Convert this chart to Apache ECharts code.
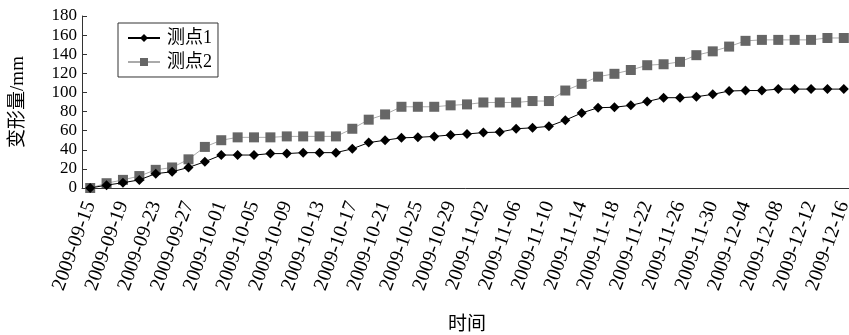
<!DOCTYPE html>
<html>
<head>
<meta charset="utf-8">
<script src="https://cdn.jsdelivr.net/npm/echarts@6/dist/echarts.min.js"></script>
<style>
  html, body { margin: 0; padding: 0; background: #fff; }
  #chart { width: 849px; height: 335px; }
</style>
</head>
<body>
<div id="chart"></div>
<script>
// Survey dates (every two days)
const dates = [
  '2009-09-15','2009-09-17','2009-09-19','2009-09-21','2009-09-23','2009-09-25','2009-09-27','2009-09-29',
  '2009-10-01','2009-10-03','2009-10-05','2009-10-07','2009-10-09','2009-10-11','2009-10-13','2009-10-15',
  '2009-10-17','2009-10-19','2009-10-21','2009-10-23','2009-10-25','2009-10-27','2009-10-29','2009-10-31',
  '2009-11-02','2009-11-04','2009-11-06','2009-11-08','2009-11-10','2009-11-12','2009-11-14','2009-11-16',
  '2009-11-18','2009-11-20','2009-11-22','2009-11-24','2009-11-26','2009-11-28','2009-11-30',
  '2009-12-02','2009-12-04','2009-12-06','2009-12-08','2009-12-10','2009-12-12','2009-12-14','2009-12-16'
];

// Cumulative deformation (mm) at monitoring point 1
const point1 = [
  0, 3, 5.5, 8.5, 15, 17, 21.5, 27.5,
  34.5, 34.5, 34.5, 36, 36, 37, 37, 37,
  41, 47.5, 50, 52.5, 53, 54, 55.5, 56.5,
  58, 58.5, 62, 63, 64.5, 71, 78.5, 84,
  84.5, 86.5, 90.5, 94.5, 94.5, 95.5, 98,
  101.5, 102, 102, 103.5, 103.5, 103.5, 103.5, 103.5
];

// Cumulative deformation (mm) at monitoring point 2
const point2 = [
  0, 5, 8.5, 12.5, 19, 21.5, 30, 43,
  50, 53, 53, 53, 54, 54, 54, 54,
  62, 71.5, 77, 85, 85, 85, 86.5, 87.5,
  89.5, 89.5, 89.5, 91, 91, 102, 109, 116.5,
  119.5, 123.5, 128.5, 129.5, 132, 139, 143,
  148, 154, 155, 155, 155, 155, 157, 157
];

const seriesNames = ['测点1', '测点2'];
const yTicks = { min: 0, max: 180, interval: 20 };

const serif = '"Liberation Serif", "Times New Roman", "Noto Sans CJK SC", serif';

const chart = echarts.init(document.getElementById('chart'), null, { renderer: 'canvas' });

chart.setOption({
  backgroundColor: '#ffffff',
  animation: false,
  textStyle: { fontFamily: serif, color: '#000' },
  grid: { left: 82, right: -3, top: 16, bottom: 147, containLabel: false, outerBoundsMode: 'none' },
  legend: {
    orient: 'vertical',
    left: 118,
    top: 23,
    data: seriesNames,
    borderColor: '#333',
    borderWidth: 1,
    padding: [6, 6, 6, 9],
    itemGap: 6,
    itemWidth: 32,
    itemHeight: 10,
    textStyle: { fontFamily: serif, fontSize: 18, color: '#000', padding: [0, 0, 0, 2] }
  },
  xAxis: {
    type: 'category',
    data: dates,
    boundaryGap: true,
    name: '时间',
    nameLocation: 'middle',
    nameGap: 125,
    nameTextStyle: { fontFamily: '"Noto Sans CJK SC", sans-serif', fontSize: 19, color: '#000' },
    axisLine: { lineStyle: { color: '#333', width: 1 } },
    axisTick: { inside: true, length: 5, interval: 0, lineStyle: { color: '#333' } },
    axisLabel: {
      interval: 1,
      rotate: 70,
      margin: 14,
      fontFamily: serif,
      fontSize: 20,
      color: '#000'
    },
    splitLine: { show: false }
  },
  yAxis: {
    type: 'value',
    min: yTicks.min,
    max: yTicks.max,
    interval: yTicks.interval,
    name: '变形量/mm',
    nameLocation: 'middle',
    nameRotate: 90,
    nameGap: 54,
    nameTextStyle: { fontFamily: serif, fontSize: 19, color: '#000' },
    axisLine: { show: true, lineStyle: { color: '#333', width: 1 } },
    axisTick: { show: true, inside: true, length: 5, lineStyle: { color: '#333' } },
    axisLabel: { fontFamily: serif, fontSize: 17, color: '#000', margin: 5 },
    splitLine: { show: false }
  },
  series: [
    {
      name: seriesNames[0],
      type: 'line',
      data: point1,
      symbol: 'diamond',
      symbolSize: 10,
      showAllSymbol: true,
      lineStyle: { color: '#000', width: 1 },
      itemStyle: { color: '#000' },
      z: 3
    },
    {
      name: seriesNames[1],
      type: 'line',
      data: point2,
      symbol: 'rect',
      symbolSize: 10,
      showAllSymbol: true,
      lineStyle: { color: '#aaa', width: 1 },
      itemStyle: { color: '#666' },
      z: 2
    }
  ]
});
</script>
</body>
</html>
